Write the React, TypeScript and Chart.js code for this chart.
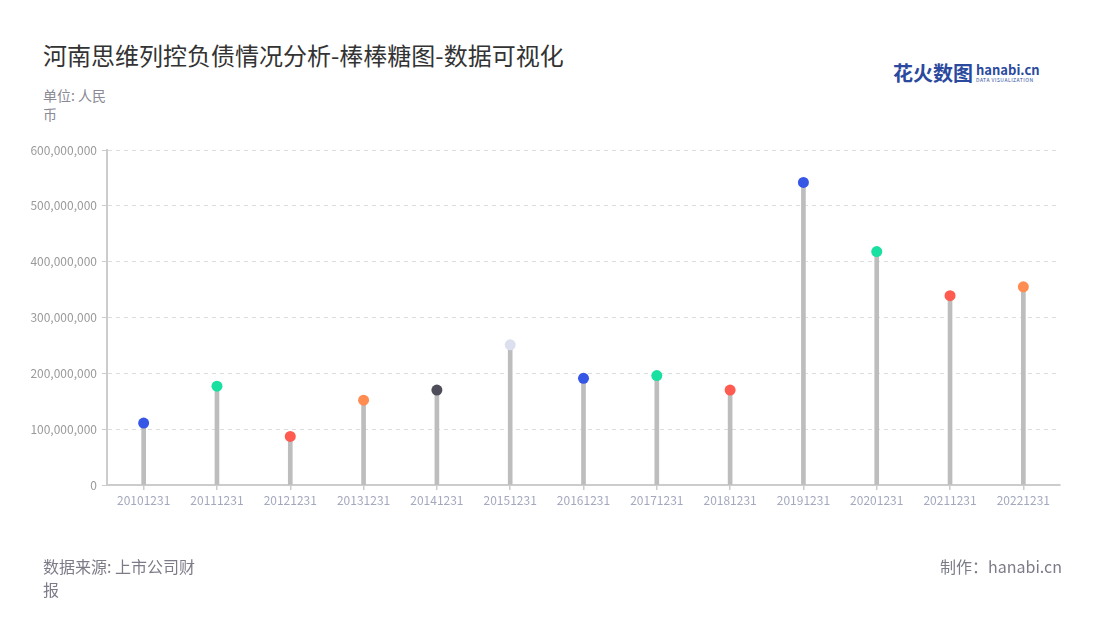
import React, { useEffect, useRef } from "react";
import { Chart, registerables } from "chart.js";

Chart.register(...registerables);

const categories = ["20101231", "20111231", "20121231", "20131231", "20141231", "20151231", "20161231", "20171231", "20181231", "20191231", "20201231", "20211231", "20221231"];
const values = [111000000, 177000000, 87000000, 152000000, 170000000, 251000000, 191000000, 196000000, 170000000, 542000000, 418000000, 339000000, 355000000];
const pointColors = ["#3656e6", "#18e0a0", "#ff5b50", "#ff8d52", "#4e4e5a", "#dcdfee", "#3656e6", "#18e0a0", "#ff5b50", "#3656e6", "#18e0a0", "#ff5b50", "#ff8d52"];
const yTicks = [0, 100000000, 200000000, 300000000, 400000000, 500000000, 600000000];

const FONT = "'Noto Sans CJK SC', 'Noto Sans', sans-serif";

export default function App() {
  const ref = useRef<HTMLCanvasElement>(null);
  useEffect(() => {
    if (!ref.current) return;
    const chart = new Chart(ref.current, {
      type: "bar",
      data: {
        labels: categories,
        datasets: [
          {
            type: "line",
            data: values,
            showLine: false,
            pointRadius: 5.5,
            pointHoverRadius: 5.5,
            pointBackgroundColor: pointColors,
            pointBorderWidth: 0,
            order: 0,
          } as any,
          {
            type: "bar",
            data: values,
            backgroundColor: "#bdbdbd",
            barThickness: 4,
            order: 1,
          },
        ],
      },
      options: {
        animation: false,
        responsive: false,
        devicePixelRatio: 1,
        layout: { padding: { left: 0, right: 40, top: 150, bottom: 0 } },
        plugins: { legend: { display: false }, tooltip: { enabled: false } },
        scales: {
          x: {
            offset: true,
            grid: { display: true, offset: false, drawOnChartArea: false, tickLength: 5, color: "#cccccc", lineWidth: 1.5 },
            border: { color: "#cccccc", width: 2 },
            ticks: { color: "#a4a8bd", font: { family: FONT, size: 12 }, padding: 3, maxRotation: 0, autoSkip: false },
            afterFit: (s: any) => { s.height = 135; },
          },
          y: {
            min: 0,
            max: 600000000,
            afterBuildTicks: (s: any) => { s.ticks = yTicks.map((v) => ({ value: v })); },
            grid: { color: "#dddddd", tickColor: "#cccccc", tickLength: 5, lineWidth: 1 },
            border: { color: "#cccccc", width: 2, dash: [4, 4] },
            ticks: {
              color: "#9a9a9a",
              font: { family: FONT, size: 12 },
              padding: 5,
              callback: (v: any) => Number(v).toLocaleString("en-US"),
            },
            afterFit: (s: any) => { s.width = 107; },
          },
        },
      } as any,
    });
    return () => chart.destroy();
  }, []);

  return (
    <div style={{ position: "fixed", left: 0, top: 0, width: 1100, height: 620, background: "#fff", fontFamily: FONT }}>
      <div style={{ position: "absolute", left: 43, top: 37, fontSize: 24, color: "#333", whiteSpace: "nowrap" }}>
        河南思维列控负债情况分析-棒棒糖图-数据可视化
      </div>
      <div style={{ position: "absolute", left: 893, top: 58, whiteSpace: "nowrap", color: "#2b4a9e" }}>
        <span style={{ fontSize: 20, fontWeight: 700 }}>花火数图</span>
      </div>
      <div style={{ position: "absolute", left: 976, top: 63, whiteSpace: "nowrap", color: "#2b4a9e", lineHeight: 1 }}>
        <div style={{ fontSize: 13, fontWeight: 700 }}>hanabi.cn</div>
        <div style={{ fontSize: 5, letterSpacing: 0.5, marginTop: 1 }}>DATA VISUALIZATION</div>
      </div>
      <div style={{ position: "absolute", left: 43, top: 86, width: 68, fontSize: 14, lineHeight: "19px", color: "#8a8a95" }}>
        单位: 人民币
      </div>
      <canvas ref={ref} width={1100} height={620} style={{ position: "absolute", left: 0, top: 0, width: 1100, height: 620 }} />
      <div style={{ position: "absolute", left: 43, top: 555, width: 158, fontSize: 16, lineHeight: "23px", color: "#7c7c88" }}>
        数据来源: 上市公司财报
      </div>
      <div style={{ position: "absolute", right: 38, top: 555, fontSize: 16, lineHeight: "23px", color: "#7c7c88", whiteSpace: "nowrap" }}>
        制作：hanabi.cn
      </div>
    </div>
  );
}
